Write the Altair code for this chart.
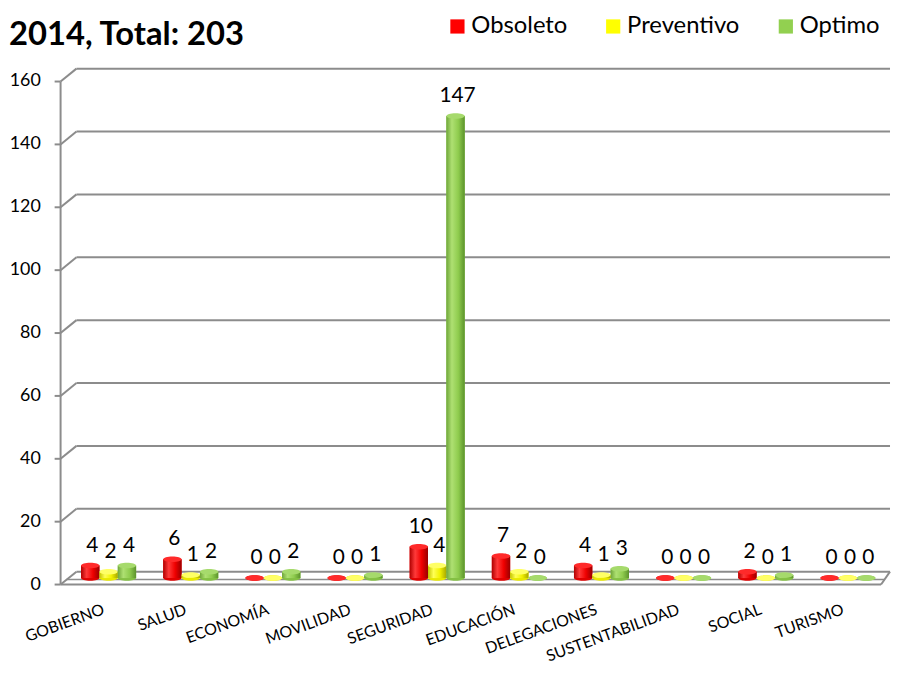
import altair as alt
import pandas as pd

# ---------------- data ----------------
categories = ["GOBIERNO", "SALUD", "ECONOMÍA", "MOVILIDAD", "SEGURIDAD",
              "EDUCACIÓN", "DELEGACIONES", "SUSTENTABILIDAD", "SOCIAL", "TURISMO"]
series = ["Obsoleto", "Preventivo", "Optimo"]
obsoleto = [4, 6, 0, 0, 10, 7, 4, 0, 2, 0]
preventivo = [2, 1, 0, 0, 4, 2, 1, 0, 0, 0]
optimo = [4, 2, 2, 1, 147, 0, 3, 0, 1, 0]
y_ticks = [0, 20, 40, 60, 80, 100, 120, 140, 160]
title_text = "2014, Total: 203"

# ---------------- styles ----------------
legend_colors = ["#FF0000", "#FFFF00", "#92D050"]
body_stops = {
    "Obsoleto": ["#B00000", "#FF3A3A", "#F00000", "#980000"],
    "Preventivo": ["#C4C400", "#FFFF55", "#F2F200", "#A8A800"],
    "Optimo": ["#6FA63A", "#AEE072", "#8FCC4E", "#5C932C"],
}
base_colors = {"Obsoleto": "#E00000", "Preventivo": "#E8E800", "Optimo": "#84C044"}
top_colors = {"Obsoleto": "#FF2A2A", "Preventivo": "#FFFF66", "Optimo": "#A6DA6C"}
GRID = "#8C8C8C"
FONT = "Lato"
W, H = 828, 507

vals = {"Obsoleto": obsoleto, "Preventivo": preventivo, "Optimo": optimo}
bars = pd.DataFrame([{"cat": c, "series": s, "value": v, "base": 0}
                     for s in series for c, v in zip(categories, vals[s])])
ticks = pd.DataFrame({"v": y_ticks})
zero = pd.DataFrame({"v": [y_ticks[0]]})
axis_span = pd.DataFrame({"lo": [y_ticks[0]], "hi": [y_ticks[-1]]})
cats = pd.DataFrame({"cat": categories})
title_df = pd.DataFrame({"t": [title_text]})

ysc = alt.Scale(domain=[y_ticks[0], y_ticks[-1]], nice=False, zero=True)
xsc = alt.Scale(domain=categories, paddingInner=0.33, paddingOuter=0.165)
X = alt.X("cat:N", scale=xsc, sort=categories, axis=None)
XO = alt.XOffset("series:N", scale=alt.Scale(domain=series, paddingInner=0, paddingOuter=0))
Yv = alt.Y("v:Q", scale=ysc, axis=None)
Yval = alt.Y("value:Q", scale=ysc, axis=None)
Ybase = alt.Y("base:Q", scale=ysc, axis=None)


def grad(stops):
    offs = [0.0, 0.3, 0.65, 1.0]
    return alt.LinearGradient(gradient="linear", x1=0, x2=1, y1=0, y2=0,
                              stops=[alt.GradientStop(offset=o, color=c) for o, c in zip(offs, stops)])


ellipse = "M-1,0A1,0.3,0,1,1,1,0A1,0.3,0,1,1,-1,0Z"

layers = []
# back wall gridlines
layers.append(alt.Chart(ticks).mark_rule(color=GRID, strokeWidth=2, yOffset=-6.5)
              .encode(y=Yv, x=alt.value(9), x2=alt.value(W + 1)))
# depth diagonals
layers.append(alt.Chart(ticks).mark_rule(color=GRID, strokeWidth=2, yOffset=6.5, y2Offset=-6.5)
              .encode(y=Yv, y2="v:Q", x=alt.value(-7), x2=alt.value(9)))
# front tick marks
layers.append(alt.Chart(ticks).mark_rule(color=GRID, strokeWidth=2, yOffset=6.5)
              .encode(y=Yv, x=alt.value(-13), x2=alt.value(-7)))
# front axis line
layers.append(alt.Chart(axis_span).mark_rule(color=GRID, strokeWidth=2, yOffset=6.5, y2Offset=6.5)
              .encode(y=alt.Y("lo:Q", scale=ysc, axis=None), y2="hi:Q", x=alt.value(-7)))
# tick labels
layers.append(alt.Chart(ticks).mark_text(align="right", baseline="middle", dy=6.5,
                                         fontSize=18, font=FONT, color="black")
              .encode(y=Yv, x=alt.value(-27), text="v:Q"))
# floor plate
layers.append(alt.Chart(zero).mark_rule(color=GRID, strokeWidth=2, yOffset=6.5)
              .encode(y=Yv, x=alt.value(-7), x2=alt.value(W - 8)))
layers.append(alt.Chart(zero).mark_rule(color=GRID, strokeWidth=1.5, yOffset=1.5)
              .encode(y=Yv, x=alt.value(-1), x2=alt.value(W - 4)))
layers.append(alt.Chart(zero).mark_rule(color=GRID, strokeWidth=2, yOffset=6.5, y2Offset=-6.5)
              .encode(y=Yv, y2="v:Q", x=alt.value(W - 8), x2=alt.value(W + 1)))

# base bars (carry the legend)
layers.append(alt.Chart(bars).mark_bar().encode(
    x=X, xOffset=XO, y=Yval,
    color=alt.Color("series:N", scale=alt.Scale(domain=series, range=legend_colors),
                    legend=alt.Legend(orient="none", legendX=381, legendY=-61,
                                      direction="horizontal", title=None,
                                      symbolType="square", symbolSize=205,
                                      symbolStrokeWidth=0, labelFontSize=24,
                                      labelFont=FONT, labelColor="black",
                                      labelOffset=2, columnPadding=34, padding=0))))

for s in series:
    sub = alt.Chart(bars).transform_filter(alt.datum.series == s)
    layers.append(sub.mark_point(shape=ellipse, size=342, filled=True, color=base_colors[s],
                                 opacity=1, strokeWidth=0)
                  .encode(x=X, xOffset=XO, y=Ybase))
    layers.append(sub.mark_bar(color=grad(body_stops[s])).encode(x=X, xOffset=XO, y=Yval))
    layers.append(sub.mark_point(shape=ellipse, size=342, filled=True, color=top_colors[s],
                                 opacity=1, strokeWidth=0)
                  .encode(x=X, xOffset=XO, y=Yval))

# value labels
layers.append(alt.Chart(bars).mark_text(fontSize=21, font=FONT, dy=-20, dx=2,
                                        baseline="middle", color="black")
              .encode(x=X, xOffset=XO, y=Yval, text="value:Q"))
# category labels
layers.append(alt.Chart(cats).mark_text(angle=340, align="right", baseline="top",
                                        fontSize=16, font=FONT, dx=-8, color="black")
              .encode(x=X, y=alt.value(H + 21), text="cat:N"))
# title (top of the chart)
layers.append(alt.Chart(title_df).mark_text(align="left", baseline="alphabetic", fontSize=33,
                                            fontWeight="bold", font=FONT, color="black")
              .encode(x=alt.value(-59), y=alt.value(-30), text="t:N"))

chart = alt.layer(*layers).properties(
    width=W, height=H,
    autosize=alt.AutoSizeParams(type="none"),
    padding={"left": 60, "top": 65, "right": 2, "bottom": 88},
).configure(font=FONT).configure_view(strokeWidth=0)

chart.save("out.html", embed_options={"renderer": "svg", "actions": False})
